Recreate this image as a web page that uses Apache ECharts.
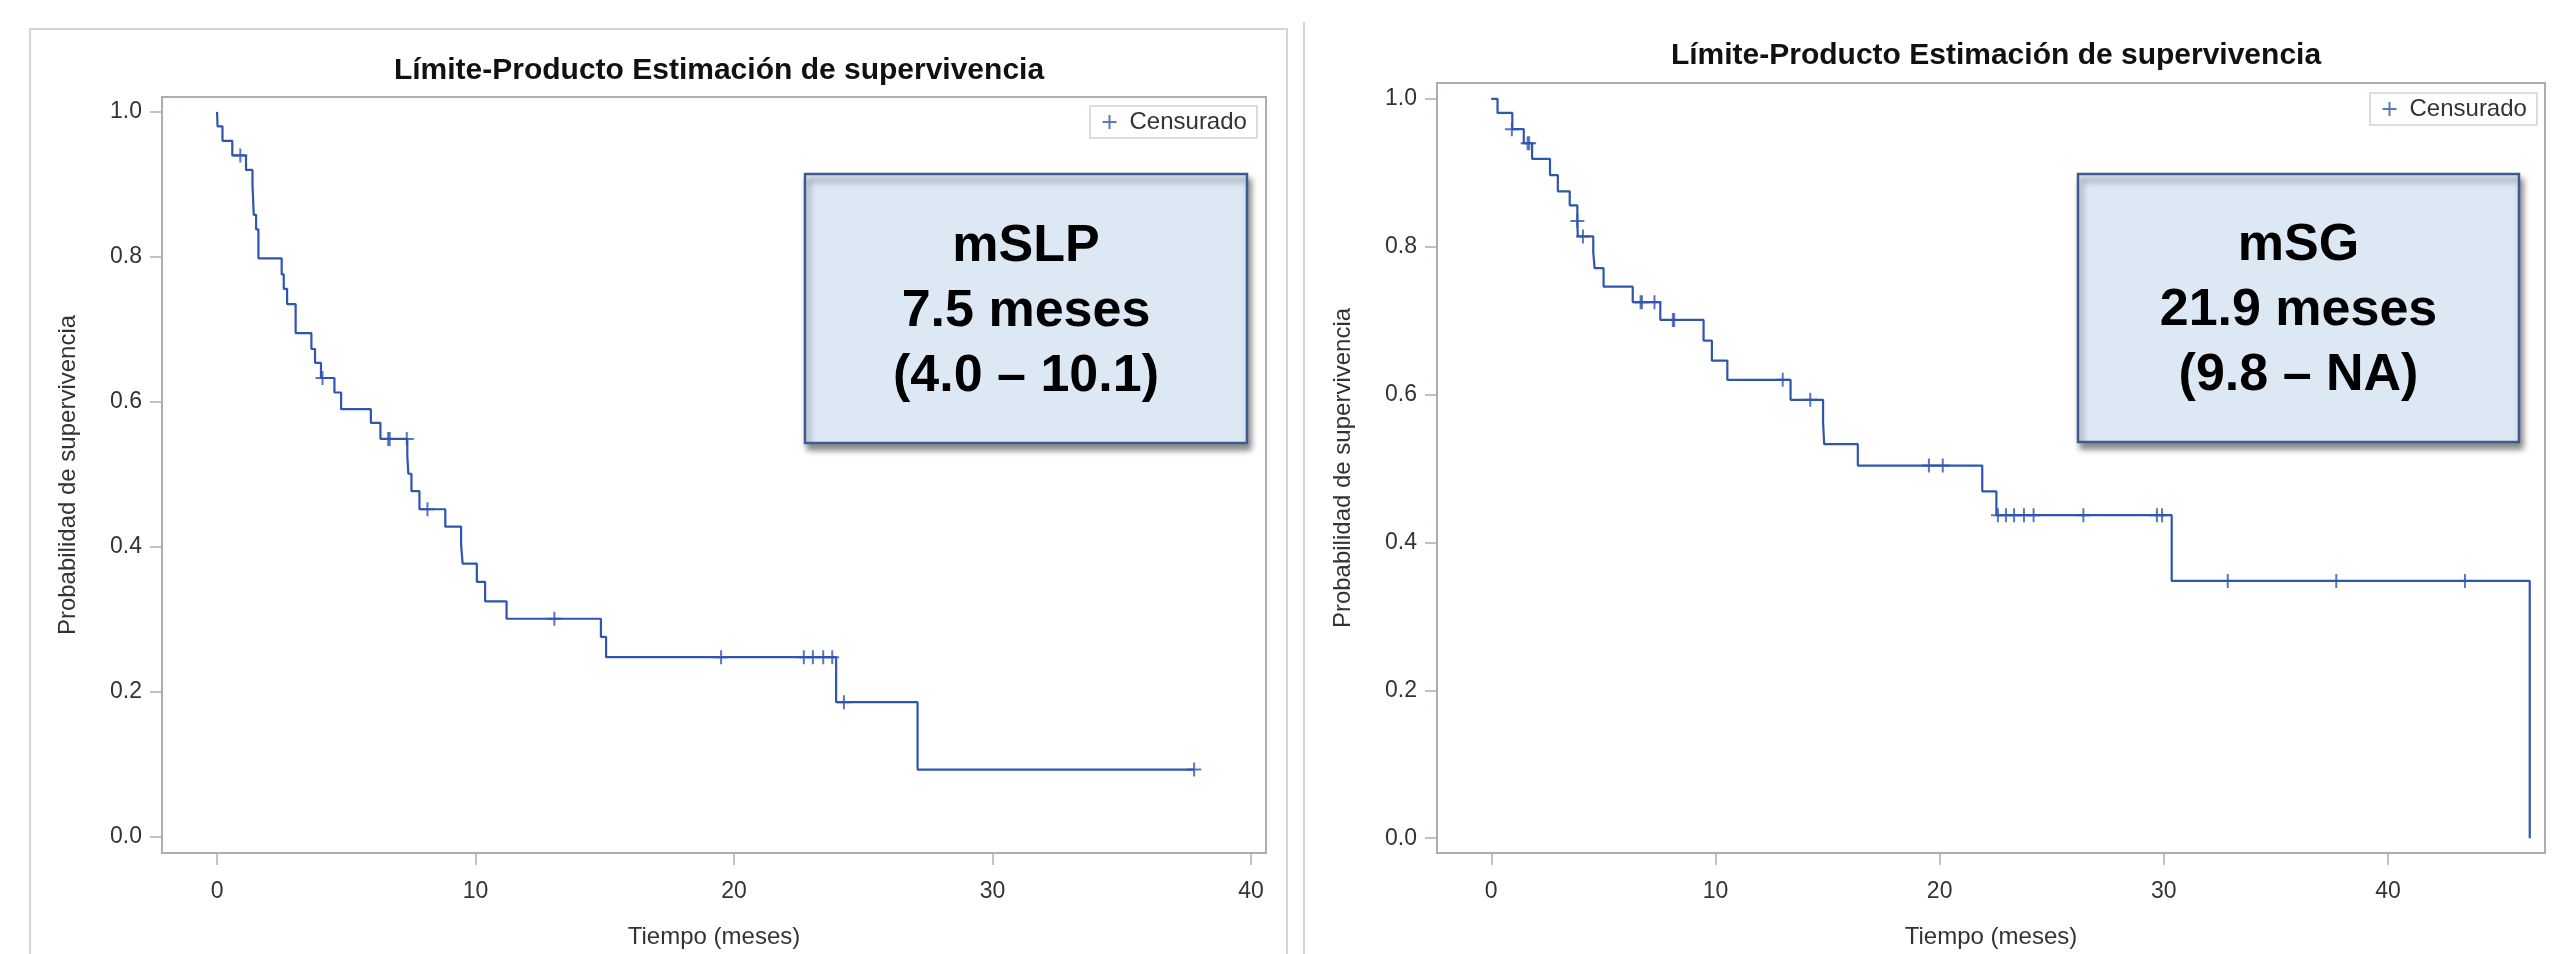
<!DOCTYPE html>
<html>
<head>
<meta charset="utf-8">
<title>Límite-Producto Estimación de supervivencia</title>
<script src="https://cdn.jsdelivr.net/npm/echarts@6/dist/echarts.min.js"></script>
<style>
    html, body { margin: 0; padding: 0; background: #fff; }
    #main { width: 2566px; height: 954px; }
</style>
</head>
<body>
<div id="main"></div>
<script>
// panel izquierdo: supervivencia libre de progresion
const slpTimes = [0, 0.02, 0.21, 0.59, 1.12, 1.37, 1.42, 1.51, 1.60, 2.50, 2.58, 2.71, 3.04, 3.65, 3.79, 4.02, 4.54, 4.80, 5.95, 6.32, 7.36, 7.40, 7.52, 7.83, 8.83, 9.44, 9.50, 10.05, 10.37, 11.20, 14.85, 15.05, 23.95, 27.10, 37.80];
const slpSurv = [1.0, 0.98, 0.96, 0.94, 0.92, 0.90, 0.858, 0.838, 0.798, 0.776, 0.756, 0.735, 0.695, 0.673, 0.654, 0.633, 0.613, 0.590, 0.571, 0.549, 0.526, 0.501, 0.477, 0.452, 0.428, 0.404, 0.377, 0.352, 0.325, 0.301, 0.276, 0.248, 0.186, 0.093, 0.093];
const slpCensTimes = [0.90, 4.08, 6.62, 6.68, 7.34, 8.14, 13.05, 19.5, 22.7, 23.05, 23.45, 23.8, 24.25, 37.8];
const slpCensSurv = [0.94, 0.633, 0.549, 0.549, 0.549, 0.452, 0.301, 0.248, 0.248, 0.248, 0.248, 0.248, 0.186, 0.093];

// panel derecho: supervivencia global
const sgTimes = [0, 0.28, 0.94, 1.45, 1.82, 2.62, 2.97, 3.50, 3.84, 3.86, 4.55, 4.61, 5.01, 6.31, 7.54, 9.47, 9.84, 10.53, 13.35, 14.80, 14.85, 16.35, 21.90, 22.53, 30.35, 46.32];
const sgSurv = [1.0, 0.981, 0.959, 0.940, 0.919, 0.897, 0.875, 0.856, 0.835, 0.814, 0.792, 0.771, 0.746, 0.725, 0.701, 0.673, 0.646, 0.620, 0.593, 0.563, 0.533, 0.504, 0.469, 0.437, 0.348, 0.0];
const sgCensTimes = [0.92, 1.62, 1.69, 3.84, 4.09, 6.66, 6.72, 7.28, 8.10, 8.16, 13.0, 14.23, 19.52, 20.14, 22.6, 22.96, 23.32, 23.76, 24.19, 26.41, 29.69, 29.92, 32.85, 37.69, 43.43];
const sgCensSurv = [0.959, 0.940, 0.940, 0.835, 0.814, 0.725, 0.725, 0.725, 0.701, 0.701, 0.620, 0.593, 0.504, 0.504, 0.437, 0.437, 0.437, 0.437, 0.437, 0.437, 0.437, 0.437, 0.348, 0.348, 0.348];

const xTicks = [0, 10, 20, 30, 40];
const yTicks = [0, 0.2, 0.4, 0.6, 0.8, 1.0];

const titleText = 'Límite-Producto Estimación de supervivencia';
const xName = 'Tiempo (meses)';
const yName = 'Probabilidad de supervivencia';
const legendName = 'Censurado';
const boxSLP = 'mSLP\n7.5 meses\n(4.0 – 10.1)';
const boxSG = 'mSG\n21.9 meses\n(9.8 – NA)';

const FONT = '"Liberation Sans", Arial, sans-serif';
const BLUE = '#2f55b0';
const FRAME = '#a9aeb3';
const PLUS = 'path://M7,0 L7,14 M0,7 L14,7';

var chart = echarts.init(document.getElementById('main'));

function zip(a, b) {
    let out = [];
    for (let i = 0; i < a.length; i++) {
        out.push([a[i], b[i]]);
    }
    return out;
}

function makeX(idx, min, max) {
    return {
        type: 'value',
        gridIndex: idx,
        min: min,
        max: max,
        name: xName,
        nameLocation: 'middle',
        nameGap: 72,
        nameTextStyle: { fontFamily: FONT, fontSize: 24, color: '#333' },
        axisLine: { show: false, onZero: false },
        axisTick: { show: true, length: 12, customValues: xTicks, lineStyle: { color: FRAME, width: 1.5 } },
        axisLabel: { customValues: xTicks, margin: 27, fontFamily: FONT, fontSize: 23, color: '#333' },
        splitLine: { show: false }
    };
}

function makeY(idx, min, max) {
    return {
        type: 'value',
        gridIndex: idx,
        min: min,
        max: max,
        name: yName,
        nameLocation: 'middle',
        nameGap: 82,
        nameTextStyle: { fontFamily: FONT, fontSize: 24, color: '#333' },
        axisLine: { show: false, onZero: false },
        axisTick: { show: true, length: 12, customValues: yTicks, lineStyle: { color: FRAME, width: 1.5 } },
        axisLabel: {
            customValues: yTicks, margin: 20, fontFamily: FONT, fontSize: 23, color: '#333',
            formatter: function (v) { return v.toFixed(1); }
        },
        splitLine: { show: false }
    };
}

function annotBox(x, y, w, h, text) {
    return {
        type: 'group',
        children: [
            {
                type: 'rect',
                shape: { x: x, y: y, width: w, height: h },
                style: {
                    fill: '#dde8f5', stroke: '#3d5b8e', lineWidth: 2.5,
                    shadowBlur: 6, shadowOffsetX: 3, shadowOffsetY: 6, shadowColor: 'rgba(0,0,0,0.45)'
                }
            },
            {
                type: 'text',
                x: x + w / 2,
                y: y + h / 2 + 3,
                style: {
                    text: text, fill: '#000', font: 'bold 52px ' + FONT,
                    textAlign: 'center', textVerticalAlign: 'middle', lineHeight: 65
                }
            }
        ]
    };
}

var option = {
    animation: false,
    backgroundColor: '#fff',
    title: [
        { text: titleText, left: 714, top: 51, textAlign: 'center', textStyle: { fontFamily: FONT, fontSize: 30, fontWeight: 'bold', color: '#111' } },
        { text: titleText, left: 1991, top: 36, textAlign: 'center', textStyle: { fontFamily: FONT, fontSize: 30, fontWeight: 'bold', color: '#111' } }
    ],
    legend: [
        {
            data: [legendName], left: 1090, top: 106, orient: 'horizontal',
            padding: [4, 10, 4, 10], itemWidth: 14, itemHeight: 14, icon: PLUS,
            borderColor: '#cfd2d6', borderWidth: 1.5, selectedMode: false,
            itemStyle: { color: 'none', borderColor: BLUE, borderWidth: 2 },
            textStyle: { fontFamily: FONT, fontSize: 24, color: '#333', padding: [0, 0, 0, 8] }
        },
        {
            data: [legendName], left: 2370, top: 93, orient: 'horizontal',
            padding: [4, 10, 4, 10], itemWidth: 14, itemHeight: 14, icon: PLUS,
            borderColor: '#cfd2d6', borderWidth: 1.5, selectedMode: false,
            itemStyle: { color: 'none', borderColor: BLUE, borderWidth: 2 },
            textStyle: { fontFamily: FONT, fontSize: 24, color: '#333', padding: [0, 0, 0, 8] }
        }
    ],
    grid: [
        { left: 162, top: 97, right: 1300, bottom: 95, show: true, borderColor: FRAME, borderWidth: 2, backgroundColor: '#fff' },
        { left: 1437, top: 83, right: 21, bottom: 97, show: true, borderColor: FRAME, borderWidth: 2, backgroundColor: '#fff' }
    ],
    xAxis: [makeX(0, -2.13, 40.58), makeX(1, -2.42, 47.0)],
    yAxis: [makeY(0, -0.022, 1.0205), makeY(1, -0.020, 1.0215)],
    series: [
        {
            type: 'line', xAxisIndex: 0, yAxisIndex: 0, step: 'end', showSymbol: false,
            lineStyle: { color: BLUE, width: 2.2 }, data: zip(slpTimes, slpSurv)
        },
        {
            name: legendName, type: 'scatter', xAxisIndex: 0, yAxisIndex: 0,
            symbol: PLUS, symbolSize: 14,
            itemStyle: { color: 'none', borderColor: BLUE, borderWidth: 2 },
            data: zip(slpCensTimes, slpCensSurv)
        },
        {
            type: 'line', xAxisIndex: 1, yAxisIndex: 1, step: 'end', showSymbol: false,
            lineStyle: { color: BLUE, width: 2.2 }, data: zip(sgTimes, sgSurv)
        },
        {
            name: legendName, type: 'scatter', xAxisIndex: 1, yAxisIndex: 1,
            symbol: PLUS, symbolSize: 14,
            itemStyle: { color: 'none', borderColor: BLUE, borderWidth: 2 },
            data: zip(sgCensTimes, sgCensSurv)
        }
    ],
    graphic: [
        // marcos exteriores de cada panel
        { type: 'rect', shape: { x: 30, y: 29, width: 1257, height: 960 }, style: { fill: 'none', stroke: '#d5d5d5', lineWidth: 2 }, z: -1 },
        { type: 'line', shape: { x1: 1304, y1: 22, x2: 1304, y2: 954 }, style: { stroke: '#d5d5d5', lineWidth: 2 }, z: -1 },
        annotBox(805, 174, 442, 269, boxSLP),
        annotBox(2078, 174, 441, 268, boxSG)
    ]
};

chart.setOption(option);
</script>
</body>
</html>
